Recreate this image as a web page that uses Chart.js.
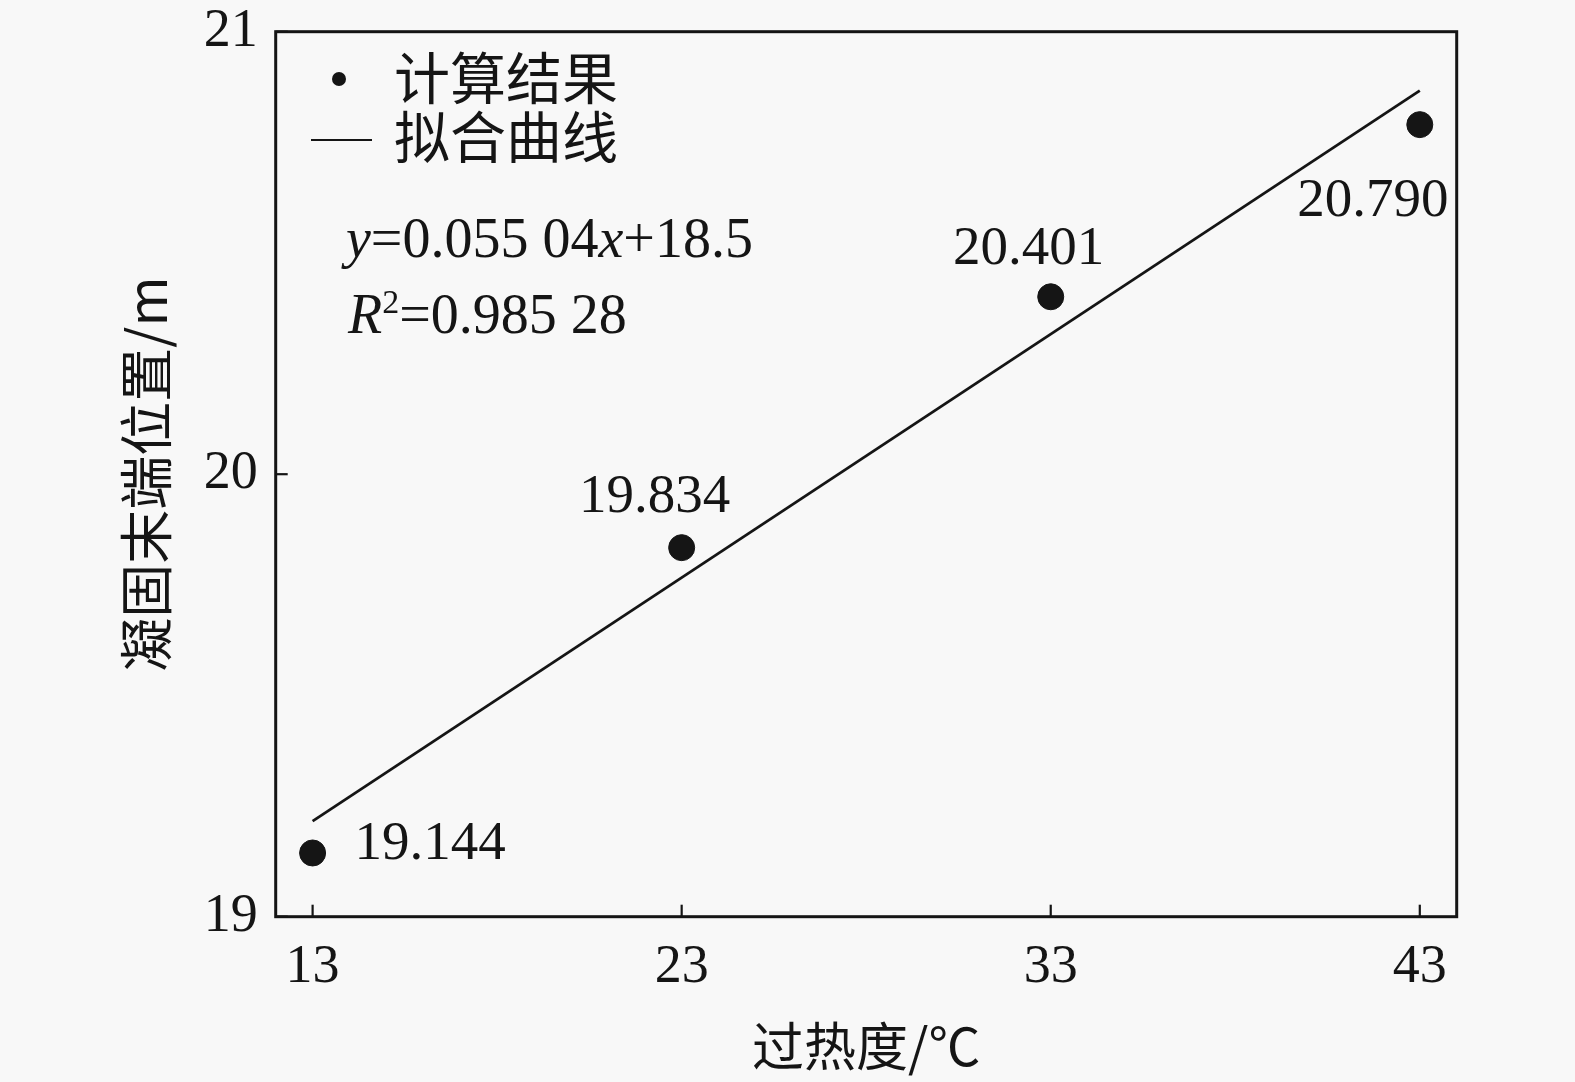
<!DOCTYPE html>
<html><head><meta charset="utf-8">
<script src="https://cdn.jsdelivr.net/npm/chart.js@4/dist/chart.umd.min.js"></script>
<style>html,body{margin:0;padding:0;background:#f8f8f8;overflow:hidden;} #wrap{width:1575px;height:1082px;}</style>
</head><body><div id="wrap"><canvas id="c" width="1575" height="1082"></canvas></div>
<script>
// ---- data ----
const superheat = [13, 23, 33, 43];
const endPosition = [19.144, 19.834, 20.401, 20.790];
const fitX = [13, 43];
const fitY = [19.216, 20.867];
const xTicks = [13, 23, 33, 43];
const yTicks = [19, 20, 21];
const seriesNames = ['计算结果', '拟合曲线'];
const xTitle = '过热度/℃';
const yTitle = '凝固末端位置/m';
const eqSlope = '0.055 04';
const eqIntercept = '18.5';
const eqR2 = '0.985 28';

// ---- styles / positions ----
const INK = '#151515';
const SERIF = '"Liberation Serif", "Times New Roman", serif';
const CJK = '"Noto Sans CJK SC", "Liberation Serif", sans-serif';
const labelOffsets = [[42, 6, 'left'], [-27, -35.5, 'center'], [-22, -32.5, 'center'], [-47, 91, 'center']];

const overlay = {
  id: 'overlay',
  beforeDraw(chart) {
    const ctx = chart.ctx;
    ctx.save();
    ctx.fillStyle = '#f8f8f8';
    ctx.fillRect(0, 0, chart.width, chart.height);
    ctx.restore();
  },
  afterDraw(chart) {
    const ctx = chart.ctx;
    const a = chart.chartArea;
    const xs = chart.scales.x, ys = chart.scales.y;
    ctx.save();
    // frame
    ctx.strokeStyle = INK;
    ctx.lineWidth = 3;
    ctx.strokeRect(a.left, a.top, a.right - a.left, a.bottom - a.top);
    // inward ticks
    ctx.lineWidth = 2.2;
    xTicks.forEach(v => {
      const px = xs.getPixelForValue(v);
      ctx.beginPath(); ctx.moveTo(px, a.bottom); ctx.lineTo(px, a.bottom - 12); ctx.stroke();
    });
    yTicks.forEach(v => {
      const py = ys.getPixelForValue(v);
      ctx.beginPath(); ctx.moveTo(a.left, py); ctx.lineTo(a.left + 12, py); ctx.stroke();
    });
    // legend
    ctx.fillStyle = INK;
    ctx.beginPath(); ctx.arc(339, 79, 7, 0, Math.PI * 2); ctx.fill();
    ctx.lineWidth = 2.2;
    ctx.beginPath(); ctx.moveTo(311, 140); ctx.lineTo(372, 140); ctx.stroke();
    ctx.font = '56px ' + CJK;
    ctx.textBaseline = 'middle';
    ctx.textAlign = 'left';
    ctx.fillText(seriesNames[0], 394, 78);
    ctx.fillText(seriesNames[1], 394, 137);
    // equation
    ctx.textBaseline = 'alphabetic';
    const runs = (x, y, parts) => {
      parts.forEach(p => {
        ctx.font = p[1];
        const dy = p[2] || 0;
        ctx.fillText(p[0], x, y + dy);
        x += ctx.measureText(p[0]).width;
      });
    };
    const N = '56px ' + SERIF, I = 'italic 56px ' + SERIF, S = '34px ' + SERIF;
    runs(346, 257, [['y', I], ['=' + eqSlope, N], ['x', I], ['+' + eqIntercept, N]]);
    runs(348, 333, [['R', I], ['2', S, -20], ['=' + eqR2, N]]);
    // data labels
    ctx.font = '55px ' + SERIF;
    superheat.forEach((v, i) => {
      const px = xs.getPixelForValue(v), py = ys.getPixelForValue(endPosition[i]);
      const o = labelOffsets[i];
      ctx.textAlign = o[2];
      ctx.fillText(endPosition[i].toFixed(3), px + o[0], py + o[1]);
    });
    ctx.restore();
  }
};

new Chart(document.getElementById('c'), {
  type: 'scatter',
  data: {
    datasets: [
      {
        type: 'line',
        label: seriesNames[1],
        data: fitX.map((x, i) => ({x: x, y: fitY[i]})),
        borderColor: INK,
        borderWidth: 2.8,
        pointRadius: 0,
        fill: false,
        order: 2
      },
      {
        label: seriesNames[0],
        data: superheat.map((x, i) => ({x: x, y: endPosition[i]})),
        backgroundColor: INK,
        borderColor: INK,
        pointRadius: 13,
        pointHoverRadius: 13,
        order: 1
      }
    ]
  },
  options: {
    responsive: false,
    animation: false,
    devicePixelRatio: 1,
    layout: { padding: { top: 31.7, right: 118.3, left: 0, bottom: 0 } },
    plugins: { legend: { display: false }, tooltip: { enabled: false } },
    scales: {
      x: {
        type: 'linear', min: 12, max: 44,
        grid: { display: false }, border: { display: false },
        afterBuildTicks: s => { s.ticks = xTicks.map(v => ({ value: v })); },
        afterFit: s => { s.height = 165.3; s.paddingLeft = 0; s.paddingRight = 0; s.paddingTop = 0; s.paddingBottom = 0; },
        ticks: { font: { family: SERIF, size: 54 }, color: INK, padding: 11, maxRotation: 0, autoSkip: false },
        title: { display: true, text: xTitle, font: { family: CJK, size: 52 }, color: INK, padding: { top: 0, bottom: 5 } }
      },
      y: {
        type: 'linear', min: 19, max: 21,
        grid: { display: false }, border: { display: false },
        afterBuildTicks: s => { s.ticks = yTicks.map(v => ({ value: v })); },
        afterFit: s => { s.width = 275.7; s.paddingLeft = 0; s.paddingRight = 0; s.paddingTop = 0; s.paddingBottom = 0; },
        ticks: { font: { family: SERIF, size: 54 }, color: INK, padding: 10, autoSkip: false },
        title: { display: true, text: yTitle, font: { family: CJK, size: 54 }, color: INK, padding: { top: 114, bottom: 0 } }
      }
    }
  },
  plugins: [overlay]
});
</script>
</body></html>
